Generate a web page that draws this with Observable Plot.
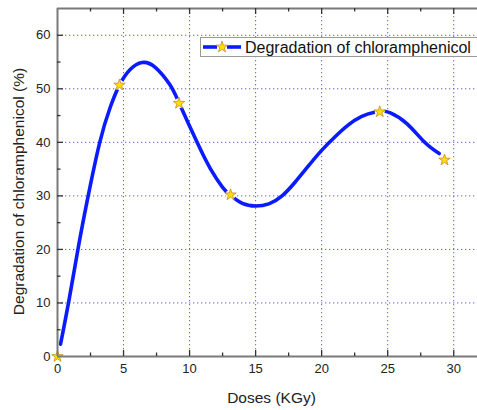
<!DOCTYPE html>
<html>
<head>
<meta charset="utf-8">
<script src="https://cdn.jsdelivr.net/npm/d3@7"></script>
<script src="https://cdn.jsdelivr.net/npm/@observablehq/plot@0.6"></script>
<style>
  html, body { margin: 0; padding: 0; background: #fff; }
  #chart { width: 477px; height: 410px; }
</style>
</head>
<body>
<div id="chart"></div>
<script>
// Measured data points (stars)
const doses = [0, 4.69, 9.2, 13.1, 24.4, 29.3];
const degradation = [0, 50.7, 47.3, 30.2, 45.7, 36.7];

// Fitted curve
const fitX = [0.23, 0.86, 1.54, 2.25, 3.2, 4.0, 4.69, 5.5, 6.4, 7.4, 8.5, 9.2, 10.57, 11.57, 12.5, 13.1, 14.0, 15.0, 16.0, 17.0, 18.0, 19.0, 20.0, 21.0, 22.0, 23.0, 24.0, 24.6, 25.2, 26.45, 27.8, 28.9];
const fitY = [2.3, 10.4, 19.9, 29.1, 40, 46.6, 50.7, 53.6, 54.9, 54.0, 50.8, 47.4, 40, 35.1, 31.6, 30.1, 28.6, 28.1, 28.5, 30.0, 32.6, 35.6, 38.5, 41.0, 43.2, 44.8, 45.6, 45.8, 45.5, 43.5, 40, 37.9];

const xTicks = [0, 5, 10, 15, 20, 25, 30];
const xMinor = [2.5, 7.5, 12.5, 17.5, 22.5, 27.5];
const yTicks = [0, 10, 20, 30, 40, 50, 60];
const yMinor = [5, 15, 25, 35, 45, 55];

const seriesName = "Degradation of chloramphenicol";
const xLabel = "Doses (KGy)";
const yLabel = "Degradation of chloramphenicol (%)";

const points = doses.map((d, i) => ({x: d, y: degradation[i]}));
const fit = fitX.map((d, i) => ({x: d, y: fitY[i]}));

const W = 477, H = 410, mL = 57, mR = 0, mT = 8, mB = 54;
const xMax = 31.8, yMax = 65;
const xk = (W - mL - mR) / xMax;   // px per x unit
const yk = (H - mT - mB) / yMax;   // px per y unit
const major = 6, minor = 3.5;
const axisColor = "#7a7a7a";
const gridColor = "#5a5aff";
const blue = "#0a1cff";
const starR = 3.6;

const chart = Plot.plot({
  width: W, height: H,
  marginLeft: mL, marginRight: mR, marginTop: mT, marginBottom: mB,
  style: {fontFamily: "'Liberation Sans', Arial, sans-serif", background: "white", overflow: "visible"},
  x: {domain: [0, xMax]},
  y: {domain: [0, yMax]},
  marks: [
    Plot.ruleX(xTicks.filter(d => d > 0), {stroke: gridColor, strokeWidth: 1, strokeDasharray: "1.3,2.7"}),
    Plot.ruleY(yTicks.filter(d => d > 0), {stroke: gridColor, strokeWidth: 1, strokeDasharray: "1.3,2.7"}),
    Plot.line(fit, {x: "x", y: "y", curve: "natural", stroke: blue, strokeWidth: 3.6}),
    Plot.dot(points.slice(1), {x: "x", y: "y", r: 5, fill: "white", stroke: "none"}),
    Plot.dot(points, {x: "x", y: "y", symbol: "star", r: starR, fill: "#ffe000", stroke: "#c98a2a", strokeWidth: 0.8}),
    Plot.ruleX([0], {stroke: axisColor, strokeWidth: 2}),
    Plot.ruleY([0], {stroke: axisColor, strokeWidth: 2}),
    Plot.ruleY([yMax], {stroke: axisColor, strokeWidth: 2}),
    Plot.ruleX(xTicks.filter(d => d > 0), {y1: 0, y2: major / yk, stroke: "#333", strokeWidth: 1.3}),
    Plot.ruleX(xMinor, {y1: 0, y2: minor / yk, stroke: "#333", strokeWidth: 1.3}),
    Plot.ruleX(xTicks.filter(d => d > 0), {y1: yMax, y2: yMax - major / yk, stroke: "#333", strokeWidth: 1.3}),
    Plot.ruleX(xMinor, {y1: yMax, y2: yMax - minor / yk, stroke: "#333", strokeWidth: 1.3}),
    Plot.ruleY(yTicks.filter(d => d > 0), {x1: 0, x2: major / xk, stroke: "#333", strokeWidth: 1.3}),
    Plot.ruleY(yMinor, {x1: 0, x2: minor / xk, stroke: "#333", strokeWidth: 1.3}),
    Plot.axisX({ticks: xTicks, tickSize: 0, tickPadding: 7, fontSize: 13, label: null, color: "#222"}),
    Plot.axisY({ticks: yTicks, tickSize: 0, tickPadding: 7, fontSize: 13, label: null, color: "#222"})
  ]
});

document.getElementById("chart").appendChild(chart);

const svg = d3.select(chart);
const font = "'Liberation Sans', Arial, sans-serif";
svg.append("text")
  .attr("transform", "translate(24,191.5) rotate(-90)")
  .attr("text-anchor", "middle")
  .attr("font-family", font).attr("font-size", 15.5).attr("fill", "#222")
  .text(yLabel);
svg.append("text")
  .attr("x", 271.5).attr("y", 403)
  .attr("text-anchor", "middle")
  .attr("font-family", font).attr("font-size", 15.5).attr("fill", "#222")
  .text(xLabel);

const lg = svg.append("g");
lg.append("rect").attr("x", 200.5).attr("y", 37.5).attr("width", 290).attr("height", 19)
  .attr("fill", "white").attr("stroke", "#9a9a9a").attr("stroke-width", 1);
lg.append("line").attr("x1", 203).attr("x2", 217).attr("y1", 47).attr("y2", 47)
  .attr("stroke", blue).attr("stroke-width", 3.6);
lg.append("line").attr("x1", 227).attr("x2", 241).attr("y1", 47).attr("y2", 47)
  .attr("stroke", blue).attr("stroke-width", 3.6);
lg.append("path").attr("transform", "translate(222,47)")
  .attr("d", d3.symbol(d3.symbolStar, Math.PI * starR * starR)())
  .attr("fill", "#ffe000").attr("stroke", "#c98a2a").attr("stroke-width", 0.8);
lg.append("text").attr("x", 245).attr("y", 52.8)
  .attr("text-anchor", "start")
  .attr("font-family", font).attr("font-size", 16).attr("fill", "#111")
  .text(seriesName);
</script>
</body>
</html>
